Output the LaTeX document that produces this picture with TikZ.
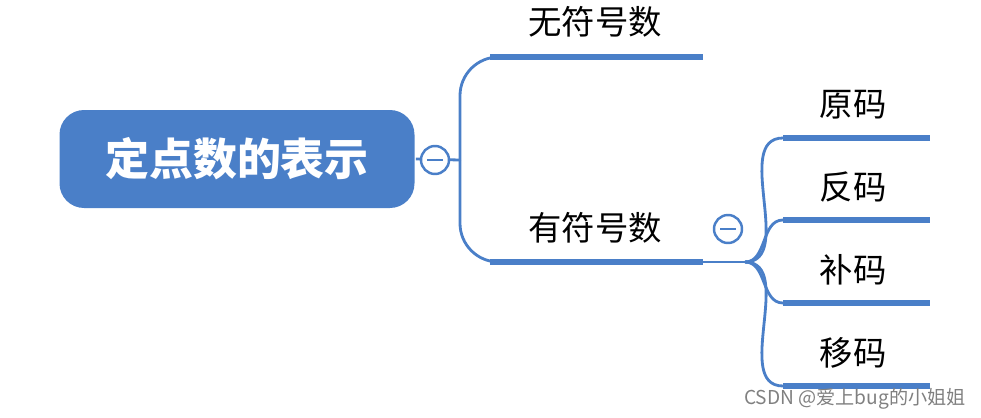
\documentclass[tikz,border=0pt]{standalone}
\usepackage{fontspec}
\newfontfamily\cjk{Noto Sans CJK SC}
\usetikzlibrary{positioning}
\definecolor{mapblue}{RGB}{74,127,200}
\tikzset{every path/.style={mapblue,line width=1.6pt},
  root/.style={fill=mapblue,draw=none,rounded corners=14pt,minimum width=355*0.02cm,minimum height=98*0.02cm,text=white,font=\cjk\fontsize{25}{25}\selectfont\bfseries},
  fold/.style={circle,draw=mapblue,fill=white,line width=1.4pt,minimum size=28*0.02cm,inner sep=0pt},
  bar/.style={line width=3.6pt},
  label/.style={text=black,font=\cjk\fontsize{19}{19}\selectfont}}
\begin{document}
\begin{tikzpicture}[x=0.02cm,y=-0.02cm]
  \useasboundingbox (0,0) rectangle (981,417);
  \node[root] (root) at (237,159) {定点数的表示};
  \coordinate (fork) at (460,160);
  % first level
  \coordinate (u0) at (490,57);  \coordinate (u1) at (703,57);
  \coordinate (s0) at (490,262); \coordinate (s1) at (703,262);
  \node[label] (unsigned) at (595,22) {无符号数};
  \node[label] (signed) at (595,228) {有符号数};
  \draw (root.east) -- (fork);
  \draw[rounded corners=22] (fork) -- (460,57) -- (u0);
  \draw[rounded corners=22] (fork) -- (460,262) -- (s0);
  \draw[bar] (u0) -- (u1);
  \draw[bar] (s0) -- (s1);
  \node[fold] (f1) at (435,160) {\rule{9pt}{1.4pt}};
  % second level
  \coordinate (hub) at (745,262);
  \draw (s1) -- (hub);
  \foreach \y/\txt/\nm in {138/原码/a,220/反码/b,303/补码/c,386/移码/d}{
    \coordinate (\nm0) at (783,\y);
    \coordinate (\nm1) at (930,\y);
    \node[label] (\nm) at (853,\y-33) {\txt};
    \draw (hub) to[out=0,in=180] (\nm0);
    \draw[bar] (\nm0) -- (\nm1);
  }
  \node[fold] (f2) at (728,229) {\rule{9pt}{1.4pt}};
  \node[text=gray,font=\cjk\fontsize{10.9}{10.9}\selectfont] (mark) at (855,399) {CSDN @爱上bug的小姐姐};
\end{tikzpicture}
\end{document}
